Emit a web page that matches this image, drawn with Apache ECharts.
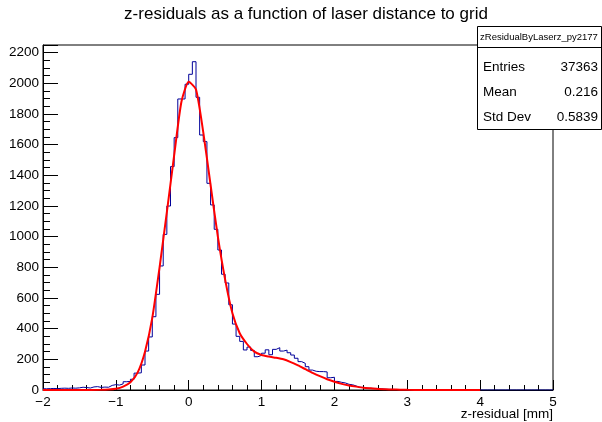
<!DOCTYPE html>
<html>
<head>
<meta charset="utf-8">
<script src="https://cdn.jsdelivr.net/npm/echarts@6/dist/echarts.min.js"></script>
<style>
html,body{margin:0;padding:0;background:#fff;}
#chart{width:602px;height:422px;}
</style>
</head>
<body>
<div id="chart"></div>
<script>
// ---- data ----
var titleText = 'z-residuals as a function of laser distance to grid';
var xAxisTitle = 'z-residual [mm]';
var histName = 'zResidualByLaserz_py2177';
var statLabels = ['Entries', 'Mean', 'Std Dev'];
var statValues = ['37363', '0.216', '0.5839'];
var xTickLabels = ['\u22122', '\u22121', '0', '1', '2', '3', '4', '5'];

var binStart = -2;
var binWidth = 0.05;
var counts = [
  8, 9, 10, 9, 11, 12, 11, 13, 12, 14,
  18, 16, 13, 20, 22, 17, 19, 18, 30, 35,
  32, 40, 54, 56, 70, 110, 112, 163, 254, 346,
  478, 624, 809, 1015, 1200, 1457, 1646, 1898, 1898, 1994,
  2059, 2141, 1909, 1663, 1620, 1348, 1207, 1048, 913, 755,
  698, 556, 430, 350, 317, 261, 280, 258, 217, 226,
  240, 262, 230, 265, 276, 254, 260, 243, 228, 207,
  185, 174, 152, 130, 122, 120, 120, 118, 80, 83,
  56, 50, 46, 37, 34, 26, 18, 17, 12, 11,
  10, 10, 8, 5, 4, 4, 3, 2, 2, 1,
  1, 1, 0, 1, 0, 0, 1, 0, 0, 0,
  1, 0, 0, 0, 0, 0, 0, 1, 0, 0,
  0, 0, 0, 0, 0, 0, 0, 0, 0, 0,
  0, 0, 0, 0, 0, 0, 0, 0, 0, 0
];

var fitX = [-2.0, -1.5, -1.2, -1.1, -1.0, -0.9, -0.8, -0.7, -0.6, -0.5, -0.4, -0.3, -0.2, -0.1, 0.0,
            0.1, 0.2, 0.3, 0.4, 0.5, 0.6, 0.7, 0.8, 0.9, 1.0, 1.1, 1.2, 1.3, 1.4, 1.5,
            1.6, 1.7, 1.8, 1.9, 2.0, 2.1, 2.2, 2.3, 2.4, 2.5, 2.6, 2.7, 2.8, 2.9, 3.0, 3.2, 3.5, 4.0];
var fitY = [0, 0, 1, 3, 8, 22, 50, 115, 250, 470, 800, 1160, 1530, 1880, 2010,
            1960, 1680, 1337, 1000, 720, 500, 370, 300, 250, 228, 218, 210, 200, 182, 160,
            136, 112, 90, 70, 54, 40, 30, 22, 15, 11, 7, 5, 3, 2, 1, 0, 0, 0];

// ---- build series data ----
var histPts = [];
for (var i = 0; i < counts.length; i++) {
  var lo = binStart + i * binWidth;
  var hi = binStart + (i + 1) * binWidth;
  histPts.push([lo, counts[i]]);
  histPts.push([hi, counts[i]]);
}
var fitPts = fitX.map(function (x, k) { return [x, fitY[k]]; });

var FONT = 'Liberation Sans, Arial, Helvetica, sans-serif';
var chart = echarts.init(document.getElementById('chart'), null, {renderer: 'canvas'});
chart.setOption({
  animation: false,
  backgroundColor: '#ffffff',
  title: {
    text: titleText,
    left: 301, top: 1, textAlign: 'center',
    textStyle: {fontFamily: FONT, fontSize: 17, fontWeight: 'normal', color: '#000'}
  },
  grid: {
    left: 43, right: 49, top: 45, bottom: 32, containLabel: false, outerBoundsMode: 'none',
    show: true, borderColor: '#000', borderWidth: 1, backgroundColor: 'transparent'
  },
  xAxis: {
    type: 'value', min: -2, max: 5, interval: 1,
    axisLine: {show: true, onZero: false, lineStyle: {color: '#000', width: 1}},
    axisTick: {show: true, inside: true, length: 10, lineStyle: {color: '#000'}},
    minorTick: {show: true, splitNumber: 5, length: 5, lineStyle: {color: '#000'}},
    splitLine: {show: false},
    axisLabel: {
      fontFamily: FONT, fontSize: 13.5, color: '#000', margin: 5,
      formatter: function (v) { return xTickLabels[Math.round(v) + 2]; }
    }
  },
  yAxis: {
    type: 'value', min: 0, max: 2250, interval: 200,
    axisLine: {show: true, onZero: false, lineStyle: {color: '#000', width: 1}},
    axisTick: {show: true, inside: true, length: 15, lineStyle: {color: '#000'}},
    minorTick: {show: true, splitNumber: 4, length: 7, lineStyle: {color: '#000'}},
    splitLine: {show: false},
    axisLabel: {
      fontFamily: FONT, fontSize: 13.5, color: '#000', margin: 4, showMaxLabel: false,
      formatter: function (v) { return v > 2200 ? '' : String(v); }
    }
  },
  series: [
    {
      type: 'line', data: histPts, showSymbol: false, symbol: 'none',
      lineStyle: {color: '#000099', width: 1}, silent: true, z: 2
    },
    {
      type: 'line', data: fitPts, showSymbol: false, symbol: 'none', smooth: 0.2,
      lineStyle: {color: '#ff0000', width: 2}, silent: true, z: 3
    }
  ],
  graphic: [
    {type: 'text', z: 102, x: 553, y: 414,
      style: {text: xAxisTitle, fontFamily: FONT, fontSize: 13.5, fill: '#000', align: 'right', verticalAlign: 'middle'}},
    {type: 'rect', z: 100, shape: {x: 477.5, y: 26.5, width: 124, height: 103},
      style: {fill: '#fff', stroke: '#000', lineWidth: 1}},
    {type: 'line', z: 101, shape: {x1: 477.5, y1: 47.5, x2: 601.5, y2: 47.5},
      style: {stroke: '#000', lineWidth: 1}},
    {type: 'text', z: 102, x: 539, y: 37,
      style: {text: histName, fontFamily: FONT, fontSize: 9.5, fill: '#000', align: 'center', verticalAlign: 'middle'}},
    {type: 'text', z: 102, x: 483, y: 67,
      style: {text: statLabels[0], fontFamily: FONT, fontSize: 13.5, fill: '#000', align: 'left', verticalAlign: 'middle'}},
    {type: 'text', z: 102, x: 598, y: 67,
      style: {text: statValues[0], fontFamily: FONT, fontSize: 13.5, fill: '#000', align: 'right', verticalAlign: 'middle'}},
    {type: 'text', z: 102, x: 483, y: 92,
      style: {text: statLabels[1], fontFamily: FONT, fontSize: 13.5, fill: '#000', align: 'left', verticalAlign: 'middle'}},
    {type: 'text', z: 102, x: 598, y: 92,
      style: {text: statValues[1], fontFamily: FONT, fontSize: 13.5, fill: '#000', align: 'right', verticalAlign: 'middle'}},
    {type: 'text', z: 102, x: 483, y: 117,
      style: {text: statLabels[2], fontFamily: FONT, fontSize: 13.5, fill: '#000', align: 'left', verticalAlign: 'middle'}},
    {type: 'text', z: 102, x: 598, y: 117,
      style: {text: statValues[2], fontFamily: FONT, fontSize: 13.5, fill: '#000', align: 'right', verticalAlign: 'middle'}}
  ]
});
</script>
</body>
</html>
